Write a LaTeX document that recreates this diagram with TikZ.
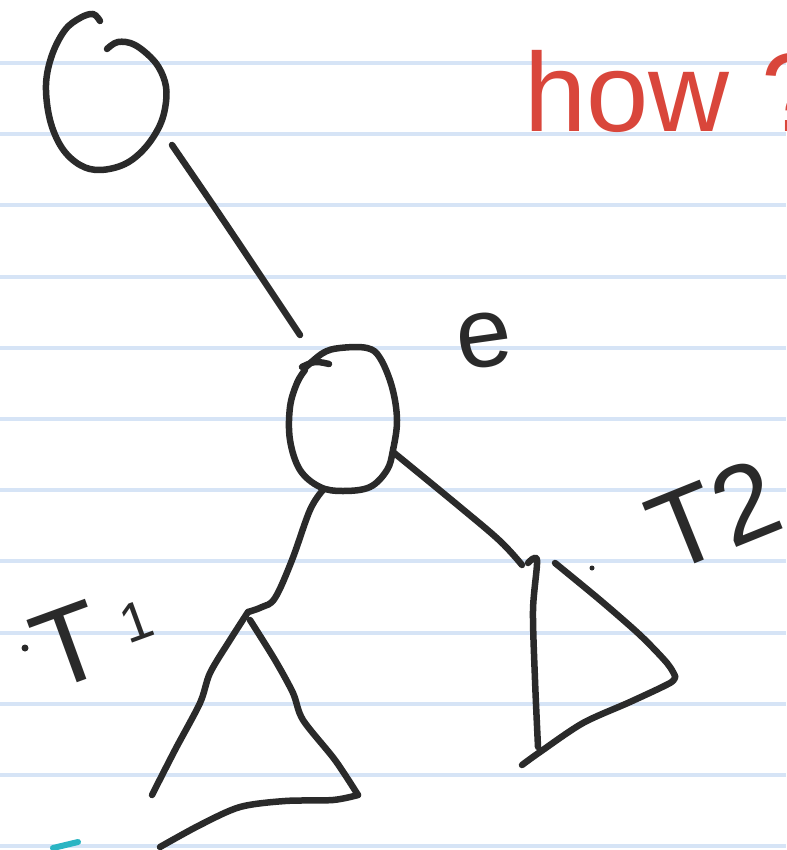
\documentclass[tikz,border=0pt]{standalone}
\usepackage{fontspec}
\newfontfamily\hand{Liberation Sans}
\definecolor{ink}{HTML}{2A2A2A}
\definecolor{paperrule}{HTML}{D6E4F6}
\definecolor{redink}{HTML}{D9463B}
\definecolor{tealink}{HTML}{2BB5C3}
\begin{document}
\begin{tikzpicture}[x=1pt,y=-1pt,
  pen/.style={draw=ink,line width=6.5pt,line cap=round,line join=round},
  lbl/.style={text=ink,inner sep=0pt,outer sep=0pt}]
\useasboundingbox (0,0) rectangle (786,850);
\clip (0,0) rectangle (786,850);
\fill[white] (0,0) rectangle (786,850);
% ruled paper
\foreach \k in {0,...,11}
  \draw[paperrule,line width=4pt] (0,63+71.2*\k) -- (786,63+71.2*\k);

% named points
\coordinate (root) at (105,92);
\coordinate (rootOut) at (172,145);
\coordinate (eIn) at (300,335);
\coordinate (e) at (342,420);
\coordinate (eLeft) at (323,490);
\coordinate (t1apex) at (248,612);
\coordinate (eRight) at (393,452);
\coordinate (t2top) at (522,565);

% root circle (open at top)
\draw[pen] plot[smooth,tension=0.6] coordinates {(107,49) (118,42) (135,45) (155,62) (165,82) (166,102) (160,125) (145,148) (125,164) (100,170) (80,165) (62,148) (50,120) (46,85) (52,55) (65,30) (80,18) (93,14) (100,21)};

% circle e
\draw[pen] plot[smooth,tension=0.6] coordinates {(305,368) (323,353) (340,348) (367,348) (380,358) (392,387) (397,420) (393,450) (387,470) (370,487) (343,491) (320,487) (300,470) (290,440) (290,407) (297,383) (305,370)};
\draw[pen] plot[smooth,tension=0.6] coordinates {(302,367) (315,362) (329,364)};

% connectors
\draw[pen] (rootOut) .. controls (220,215) .. (eIn);
\draw[pen] plot[smooth,tension=0.6] coordinates {(eLeft) (310,510) (292,560) (275,598) (262,607) (t1apex)};
\draw[pen] plot[smooth,tension=0.6] coordinates {(eRight) (460,507) (500,541) (t2top)};

% subtree T1
\draw[pen] plot[smooth,tension=0.5] coordinates {(t1apex) (230,640) (210,673) (200,703) (175,750) (152,795)};
\draw[pen] plot[smooth,tension=0.5] coordinates {(250,620) (275,660) (293,693) (303,720) (335,760) (358,795)};
\draw[pen] plot[smooth,tension=0.5] coordinates {(358,795) (333,800) (285,801) (240,807) (200,825) (160,847)};

% subtree T2
\draw[pen] plot[smooth,tension=0.5] coordinates {(528,563) (537,560) (533,610) (535,680) (538,747)};
\draw[pen] plot[smooth,tension=0.5] coordinates {(522,765) (540,752) (583,723) (630,702) (670,683) (675,676)};
\draw[pen] plot[smooth,tension=0.5] coordinates {(675,676) (667,663) (640,635) (600,600) (555,563)};
\fill[ink] (592,568) circle (2.5pt);
\fill[ink] (25,648) circle (3.5pt);

% teal mark
\draw[draw=tealink,line width=6pt,line cap=round] (53,848) -- (78,842);

% labels
\node[lbl,anchor=center,rotate=20] (lblT1) at (94,636) {\fontsize{110}{110}\hand T\kern22pt\raisebox{18pt}{\fontsize{55}{55}\selectfont 1}};
\node[lbl,anchor=center,rotate=22] (lblT2) at (714,515) {\fontsize{110}{110}\hand T2};
\node[lbl,anchor=center,rotate=8] (lble) at (484,340) {\fontsize{100}{100}\hand e};
\node[lbl,text=redink,anchor=base west] (lblhow) at (524,132) {\fontsize{112}{112}\hand how\kern32pt?};
\end{tikzpicture}
\end{document}
